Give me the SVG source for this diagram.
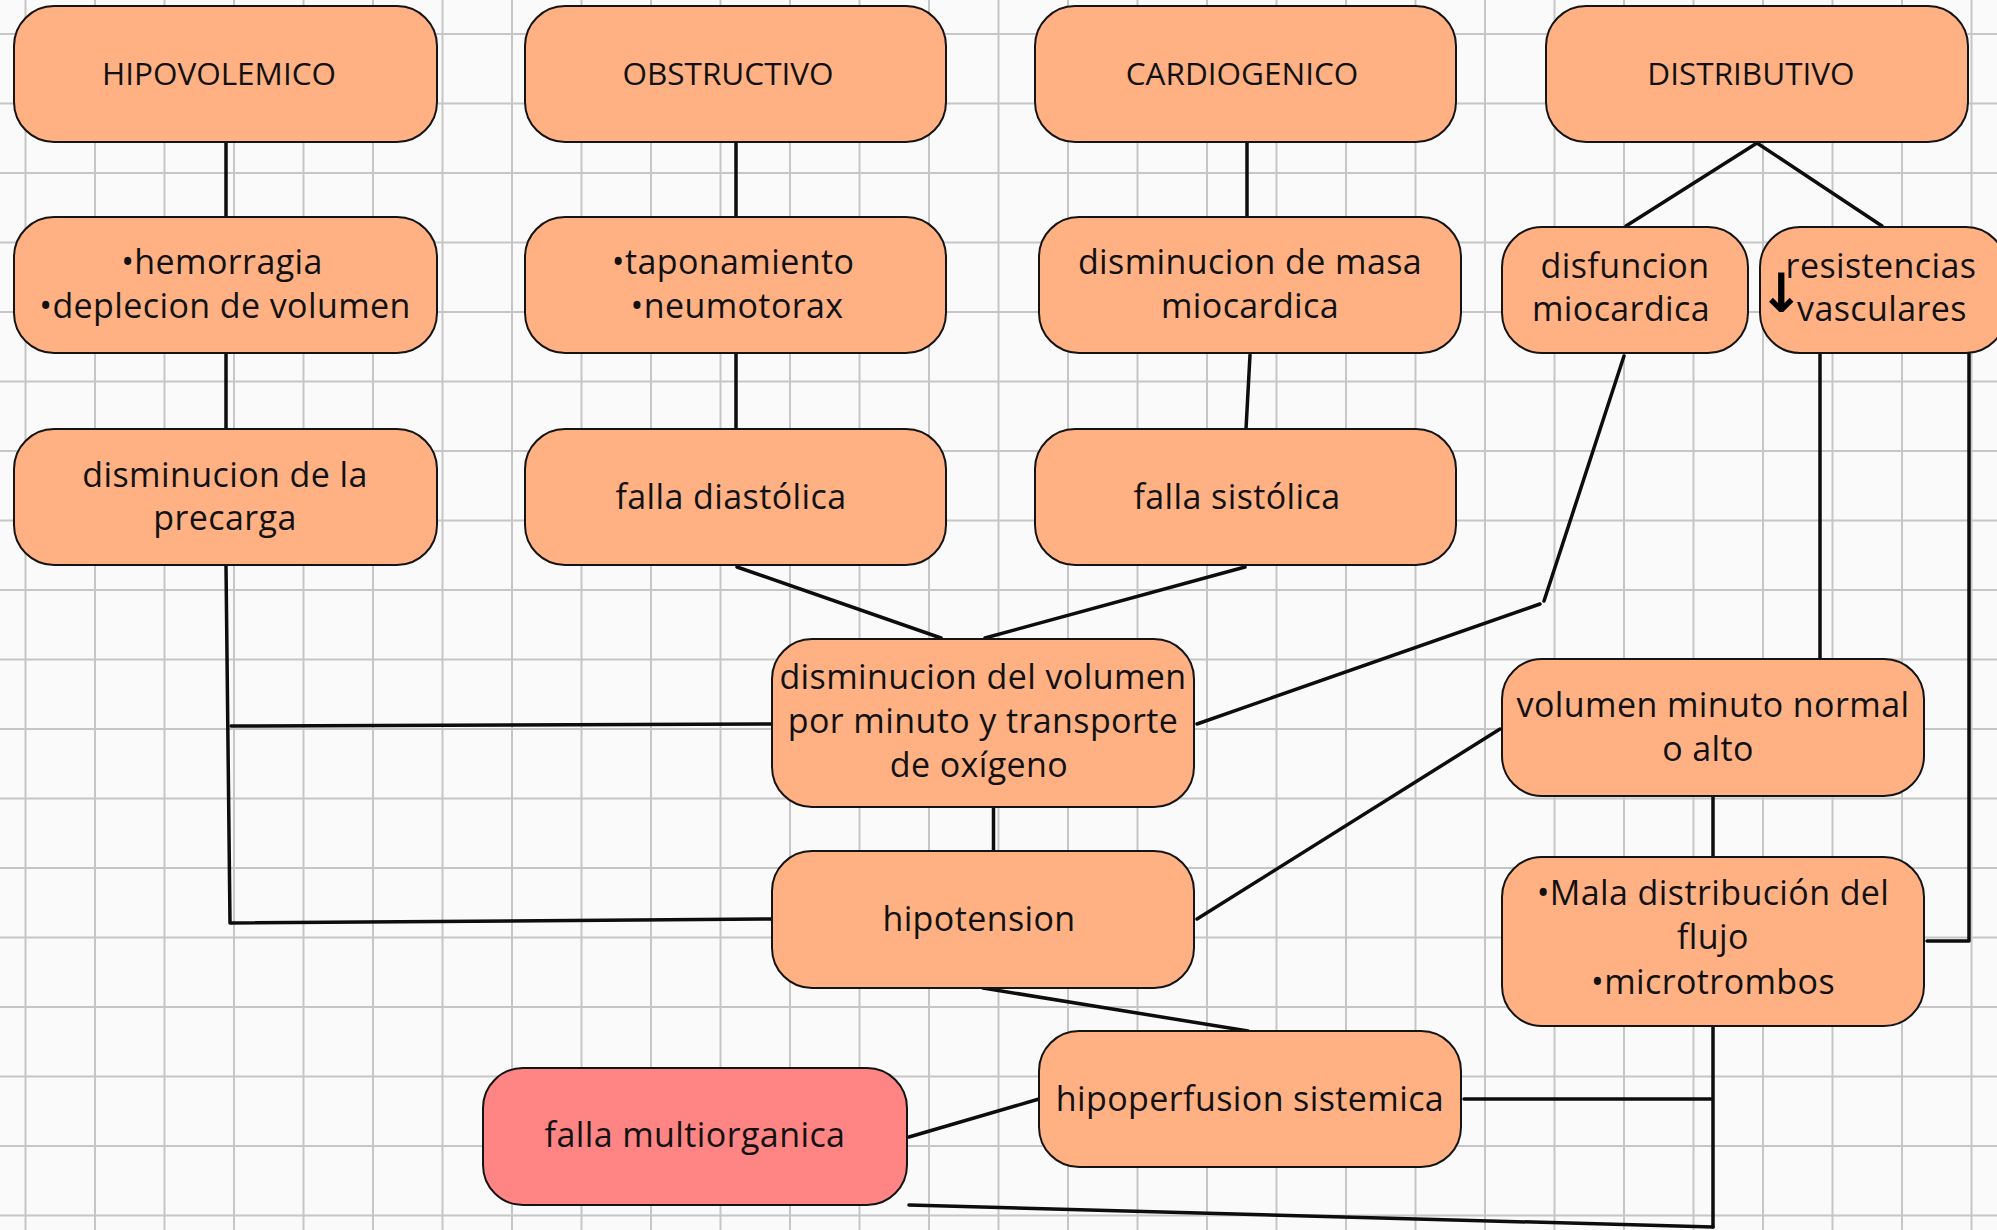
<svg xmlns="http://www.w3.org/2000/svg" width="1997" height="1230" viewBox="0 0 1997 1230">
<style>
.bg{fill:#fafafa}
.grid{stroke:#c6c6c6;stroke-width:2;fill:none}
.node rect{fill:#ffb184;stroke:#141414;stroke-width:2}
.node.red rect{fill:#ff8585}
.node text{font-family:"Open Sans","Noto Sans",sans-serif;font-size:34px;letter-spacing:0.4px;fill:#111;text-anchor:middle}
.node text.h{font-size:31.5px;letter-spacing:0}
.node text.arrow{font-family:"DejaVu Sans",sans-serif;font-weight:bold;font-size:54px;letter-spacing:0;fill:#000}
.conn path{stroke:#0d0d0d;stroke-width:3.5;fill:none;stroke-linecap:round;stroke-linejoin:round}
</style>
<rect class="bg" x="0" y="0" width="1997" height="1230"/>
<path class="grid" d="M25.5 0V1230M95 0V1230M164.5 0V1230M234 0V1230M303.5 0V1230M373 0V1230M442.5 0V1230M512 0V1230M581.5 0V1230M651 0V1230M720.5 0V1230M790 0V1230M859.5 0V1230M929 0V1230M998.5 0V1230M1068 0V1230M1137.5 0V1230M1207 0V1230M1276.5 0V1230M1346 0V1230M1415.5 0V1230M1485 0V1230M1554.5 0V1230M1624 0V1230M1693.5 0V1230M1763 0V1230M1832.5 0V1230M1902 0V1230M1971.5 0V1230M0 34H1997M0 103.5H1997M0 173H1997M0 242.5H1997M0 312H1997M0 381.5H1997M0 451H1997M0 520.5H1997M0 590H1997M0 659.5H1997M0 729H1997M0 798.5H1997M0 868H1997M0 937.5H1997M0 1007H1997M0 1076.5H1997M0 1146H1997M0 1215.5H1997"/>
<g class="conn" id="connectors">
<path d="M226 142V217"/>
<path d="M226 353V429"/>
<path d="M226 566L230 923L772 919"/>
<path d="M231 726L772 724"/>
<path d="M736 142V217"/>
<path d="M736 353V429"/>
<path d="M737 567L941 638"/>
<path d="M1245 567L985 638"/>
<path d="M1247 142V217"/>
<path d="M1250 355L1246 429"/>
<path d="M1757 143L1626 226"/>
<path d="M1757 143L1882 226"/>
<path d="M1624 356L1544 601"/>
<path d="M1540 604L1197 724"/>
<path d="M1820 354V659"/>
<path d="M1969 354V941H1927"/>
<path d="M1713 797V857"/>
<path d="M993.5 807V856"/>
<path d="M1197 919L1500 729"/>
<path d="M983 988L1248 1031"/>
<path d="M909 1137L1039 1099"/>
<path d="M1464 1099H1711"/>
<path d="M1713 1027V1227"/>
<path d="M909 1205L1713 1227"/>
</g>
<g class="node" id="hipovolemico"><rect x="14" y="6" width="423" height="136" rx="40"/><text class="h" x="219" y="85">HIPOVOLEMICO</text></g>
<g class="node" id="obstructivo"><rect x="525" y="6" width="421" height="136" rx="40"/><text class="h" x="728" y="85">OBSTRUCTIVO</text></g>
<g class="node" id="cardiogenico"><rect x="1035" y="6" width="421" height="136" rx="40"/><text class="h" x="1242" y="85">CARDIOGENICO</text></g>
<g class="node" id="distributivo"><rect x="1546" y="6" width="422" height="136" rx="40"/><text class="h" x="1751" y="85">DISTRIBUTIVO</text></g>
<g class="node" id="hemorragia"><rect x="14" y="217" width="423" height="136" rx="40"/><text x="222" y="274">•hemorragia</text><text x="225" y="318">•deplecion de volumen</text></g>
<g class="node" id="taponamiento"><rect x="525" y="217" width="421" height="136" rx="40"/><text x="733" y="274">•taponamiento</text><text x="737" y="318">•neumotorax</text></g>
<g class="node" id="masa"><rect x="1039" y="217" width="422" height="136" rx="40"/><text x="1250" y="274">disminucion de masa</text><text x="1250" y="318">miocardica</text></g>
<g class="node" id="disfuncion"><rect x="1502" y="227" width="246" height="126" rx="40"/><text x="1625" y="278">disfuncion</text><text x="1621" y="321">miocardica</text></g>
<g class="node" id="resistencias"><rect x="1760" y="227" width="246" height="126" rx="40"/><text x="1881" y="278">resistencias</text><text x="1882" y="321">vasculares</text><text class="arrow" x="1781" y="312">↓</text></g>
<g class="node" id="precarga"><rect x="14" y="429" width="423" height="136" rx="40"/><text x="225" y="487">disminucion de la</text><text x="225" y="530">precarga</text></g>
<g class="node" id="diastolica"><rect x="525" y="429" width="421" height="136" rx="40"/><text x="731" y="509">falla diastólica</text></g>
<g class="node" id="sistolica"><rect x="1035" y="429" width="421" height="136" rx="40"/><text x="1237" y="509">falla sistólica</text></g>
<g class="node" id="volumen-oxigeno"><rect x="772" y="639" width="422" height="168" rx="40"/><text x="983" y="689">disminucion del volumen</text><text x="983" y="733">por minuto y transporte</text><text x="979" y="777">de oxígeno</text></g>
<g class="node" id="hipotension"><rect x="772" y="851" width="422" height="137" rx="40"/><text x="979" y="931">hipotension</text></g>
<g class="node" id="volumen-minuto"><rect x="1502" y="659" width="422" height="137" rx="40"/><text x="1713" y="717">volumen minuto normal</text><text x="1708" y="761">o alto</text></g>
<g class="node" id="mala-distribucion"><rect x="1502" y="857" width="422" height="169" rx="40"/><text x="1713" y="905">•Mala distribución del</text><text x="1713" y="949">flujo</text><text x="1713" y="994">•microtrombos</text></g>
<g class="node" id="hipoperfusion"><rect x="1039" y="1031" width="422" height="136" rx="40"/><text x="1250" y="1111">hipoperfusion sistemica</text></g>
<g class="node red" id="falla-multiorganica"><rect x="483" y="1068" width="424" height="137" rx="40"/><text x="695" y="1147">falla multiorganica</text></g>
</svg>
